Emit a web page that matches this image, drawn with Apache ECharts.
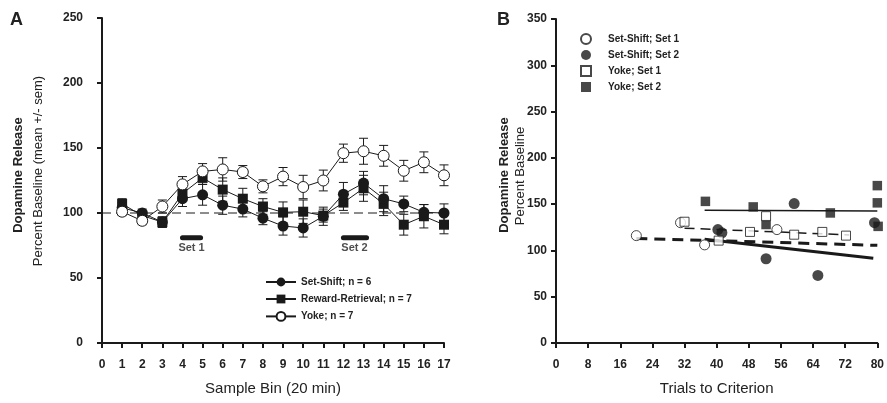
<!DOCTYPE html>
<html><head><meta charset="utf-8">
<script src="https://cdn.jsdelivr.net/npm/echarts@6/dist/echarts.min.js"></script>
<style>html,body{margin:0;padding:0;background:#fff}#c{width:887px;height:403px}</style>
</head><body><div id="c"></div>
<script>
// ---- Panel A data ----
var bins = [1,2,3,4,5,6,7,8,9,10,11,12,13,14,15,16,17];
var setShift    = [104, 100, 93, 111, 114, 106, 103, 96, 90, 88.5, 97.5, 114.5, 123, 111, 107, 100.5, 100];
var setShiftSem = [4, 3, 4, 6, 8, 7, 6, 5, 7, 7, 7, 9, 9, 10, 6, 6, 7];
var reward      = [107, 98, 93, 115, 127, 118, 111, 105, 100.5, 101, 98, 108, 119, 107, 91, 97.5, 91];
var rewardSem   = [4, 3, 4, 5, 5, 9, 8, 6, 8, 9, 5, 6, 10, 9, 8, 9, 7];
var yoke        = [101, 94, 105, 122, 132, 133.5, 131.5, 120.5, 128, 120, 125, 146, 147.5, 144, 132.5, 139, 129];
var yokeSem     = [3, 3, 5, 6, 6, 9, 5, 5, 7, 9, 8, 7, 10, 8, 8, 8, 8];
var baseline = [[0,100],[17,100]];
var setBar1 = [[4,81],[4.9,81]];
var setBar2 = [[12,81],[13.15,81]];
var setLabels = [{name:'Set 1', value:[4.45,73]},{name:'Set 2', value:[12.55,73]}];
var legendA = ['Set-Shift; n = 6','Reward-Retrieval; n = 7','Yoke; n = 7'];

// ---- Panel B data ----
var ssSet1 = [[20,116],[31,130],[37,106],[55,122.5]];
var ssSet2 = [[40.3,122.5],[41.3,119],[52.3,91],[59.3,150.6],[65.2,73],[79.3,130]];
var yokeSet1 = [[32,131],[40.5,110.6],[48.3,120],[52.3,137],[59.3,117],[66.3,120],[72.2,116]];
var yokeSet2 = [[37.2,153],[49.1,147],[52.3,128],[68.3,140.5],[80,170],[80,151.4],[80.2,126]];
var ssSet1Fit = [[20,113],[80,105.5]];
var ssSet2Fit = [[37,112],[79,91.5]];
var yokeSet1Fit = [[32,124],[73,116.8]];
var yokeSet2Fit = [[37,143.5],[80,142.5]];
var legendB = ['Set-Shift; Set 1','Set-Shift; Set 2','Yoke; Set 1','Yoke; Set 2'];

var INK = '#1a1a1a';
var FONT = '"Liberation Sans", Arial, sans-serif';

function zip(xs, ys){ return xs.map(function(x,i){ return [x, ys[i]]; }); }
function zip3(xs, ys, es){ return xs.map(function(x,i){ return [x, ys[i], es[i]]; }); }

function errRender(params, api){
  var x = api.value(0), m = api.value(1), s = api.value(2);
  var t = api.coord([x, m + s]), b = api.coord([x, m - s]);
  var hw = 4.5, st = {stroke: INK, lineWidth: 1};
  return {type:'group', children:[
    {type:'line', shape:{x1:t[0],y1:t[1],x2:b[0],y2:b[1]}, style:st},
    {type:'line', shape:{x1:t[0]-hw,y1:t[1],x2:t[0]+hw,y2:t[1]}, style:st},
    {type:'line', shape:{x1:b[0]-hw,y1:b[1],x2:b[0]+hw,y2:b[1]}, style:st}
  ]};
}
function errSeries(data){
  return {type:'custom', xAxisIndex:0, yAxisIndex:0, renderItem:errRender, data:data, z:1, silent:true};
}

var axisLineStyle = {lineStyle:{color:INK, width:2}};
var axisTickStyle = {show:true, inside:false, length:5, lineStyle:{color:INK, width:2}};
var labStyle = {color:'#222', fontFamily:FONT, fontWeight:'bold', fontSize:12};

var chart = echarts.init(document.getElementById('c'));
chart.setOption({
  animation:false,
  backgroundColor:'#fff',
  textStyle:{fontFamily:FONT},
  grid:[
    {left:102, right:443, top:18, bottom:60},
    {left:556, right:7, top:19, bottom:60}
  ],
  xAxis:[
    {gridIndex:0, type:'value', min:0, max:17, interval:1,
     axisLine:axisLineStyle, axisTick:axisTickStyle, splitLine:{show:false},
     axisLabel:Object.assign({margin:16}, labStyle),
     name:'Sample Bin (20 min)', nameLocation:'middle', nameGap:38,
     nameTextStyle:{color:'#222', fontFamily:FONT, fontSize:15}},
    {gridIndex:1, type:'value', min:0, max:80, interval:8,
     axisLine:axisLineStyle, axisTick:axisTickStyle, splitLine:{show:false},
     axisLabel:Object.assign({margin:16}, labStyle),
     name:'Trials to Criterion', nameLocation:'middle', nameGap:38,
     nameTextStyle:{color:'#222', fontFamily:FONT, fontSize:15}}
  ],
  yAxis:[
    {gridIndex:0, type:'value', min:0, max:250, interval:50,
     axisLine:axisLineStyle, axisTick:axisTickStyle, splitLine:{show:false},
     axisLabel:Object.assign({margin:19}, labStyle)},
    {gridIndex:1, type:'value', min:0, max:350, interval:50,
     axisLine:axisLineStyle, axisTick:axisTickStyle, splitLine:{show:false},
     axisLabel:Object.assign({margin:9}, labStyle)}
  ],
  legend:[
    {data:legendA, orient:'vertical', left:260, top:272, itemWidth:30, itemHeight:11, itemGap:7,
     textStyle:{color:'#222', fontFamily:FONT, fontWeight:'bold', fontSize:10}, selectedMode:false},
    {data:legendB, orient:'vertical', left:575, top:28, itemWidth:10, itemHeight:10, itemGap:5,
     textStyle:{color:'#222', fontFamily:FONT, fontWeight:'bold', fontSize:10, padding:[0,0,0,12]}, selectedMode:false}
  ],
  graphic:[
    {type:'text', left:10, top:11, style:{text:'A', font:'bold 18px '+FONT, fill:'#222'}},
    {type:'text', left:497, top:11, style:{text:'B', font:'bold 18px '+FONT, fill:'#222'}},
    {type:'text', x:18, y:175, rotation:Math.PI/2, style:{text:'Dopamine Release', font:'bold 13px '+FONT, fill:'#222', align:'center', verticalAlign:'middle'}},
    {type:'text', x:38, y:171, rotation:Math.PI/2, style:{text:'Percent Baseline (mean +/- sem)', font:'13px '+FONT, fill:'#222', align:'center', verticalAlign:'middle'}},
    {type:'text', x:504, y:175, rotation:Math.PI/2, style:{text:'Dopamine Release', font:'bold 13px '+FONT, fill:'#222', align:'center', verticalAlign:'middle'}},
    {type:'text', x:520, y:176, rotation:Math.PI/2, style:{text:'Percent Baseline', font:'13px '+FONT, fill:'#222', align:'center', verticalAlign:'middle'}}
  ],
  series:[
    // Panel A
    {type:'line', xAxisIndex:0, yAxisIndex:0, data:baseline, symbol:'none', silent:true,
     lineStyle:{color:INK, width:1, type:[9,5]}, z:0},
    {type:'line', xAxisIndex:0, yAxisIndex:0, data:setBar1, symbol:'none', silent:true,
     lineStyle:{color:INK, width:5, cap:'round'}},
    {type:'line', xAxisIndex:0, yAxisIndex:0, data:setBar2, symbol:'none', silent:true,
     lineStyle:{color:INK, width:5, cap:'round'}},
    {type:'scatter', xAxisIndex:0, yAxisIndex:0, data:setLabels, symbolSize:0, silent:true,
     label:{show:true, position:'inside', formatter:function(p){return p.name;}, color:'#222',
            fontFamily:FONT, fontWeight:'bold', fontSize:11}},
    errSeries(zip3(bins, reward, rewardSem)),
    errSeries(zip3(bins, setShift, setShiftSem)),
    errSeries(zip3(bins, yoke, yokeSem)),
    {name:legendA[1], type:'line', xAxisIndex:0, yAxisIndex:0, data:zip(bins, reward),
     symbol:'rect', symbolSize:10, showAllSymbol:true, z:3,
     lineStyle:{color:INK, width:1}, itemStyle:{color:INK, borderColor:INK, borderWidth:0}},
    {name:legendA[0], type:'line', xAxisIndex:0, yAxisIndex:0, data:zip(bins, setShift),
     symbol:'circle', symbolSize:11, showAllSymbol:true, z:4,
     lineStyle:{color:INK, width:1}, itemStyle:{color:INK, borderColor:INK, borderWidth:0}},
    {name:legendA[2], type:'line', xAxisIndex:0, yAxisIndex:0, data:zip(bins, yoke),
     symbol:'circle', symbolSize:11, showAllSymbol:true, z:5,
     lineStyle:{color:INK, width:1}, itemStyle:{color:'#fff', borderColor:INK, borderWidth:1}},
    // Panel B fit lines
    {type:'line', xAxisIndex:1, yAxisIndex:1, data:ssSet1Fit, symbol:'none', silent:true,
     lineStyle:{color:INK, width:3, type:[11,7]}},
    {type:'line', xAxisIndex:1, yAxisIndex:1, data:ssSet2Fit, symbol:'none', silent:true,
     lineStyle:{color:INK, width:3}},
    {type:'line', xAxisIndex:1, yAxisIndex:1, data:yokeSet1Fit, symbol:'none', silent:true,
     lineStyle:{color:INK, width:1.5, type:[10,6]}},
    {type:'line', xAxisIndex:1, yAxisIndex:1, data:yokeSet2Fit, symbol:'none', silent:true,
     lineStyle:{color:INK, width:1.5}},
    // Panel B points
    {name:legendB[0], type:'scatter', xAxisIndex:1, yAxisIndex:1, data:ssSet1, clip:false,
     symbol:'circle', symbolSize:10, itemStyle:{color:'#fff', borderColor:INK, borderWidth:1}, z:3},
    {name:legendB[1], type:'scatter', xAxisIndex:1, yAxisIndex:1, data:ssSet2, clip:false,
     symbol:'circle', symbolSize:11, itemStyle:{color:INK, borderColor:INK, borderWidth:0}, z:3},
    {name:legendB[2], type:'scatter', xAxisIndex:1, yAxisIndex:1, data:yokeSet1, clip:false,
     symbol:'rect', symbolSize:9, itemStyle:{color:'#fff', borderColor:INK, borderWidth:1}, z:4},
    {name:legendB[3], type:'scatter', xAxisIndex:1, yAxisIndex:1, data:yokeSet2, clip:false,
     symbol:'rect', symbolSize:9.5, itemStyle:{color:INK, borderColor:INK, borderWidth:0}, z:3}
  ]
});
</script></body></html>
